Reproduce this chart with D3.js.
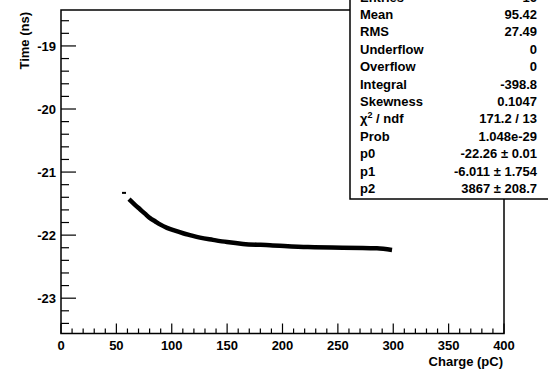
<!DOCTYPE html>
<html><head><meta charset="utf-8">
<script src="https://cdn.jsdelivr.net/npm/d3@7"></script>
<style>
body{margin:0;background:#fff;}
svg{display:block;font-family:"Liberation Sans",Arial,sans-serif;font-weight:bold;}
</style></head>
<body><svg id="c" width="548" height="374"></svg>
<script>
// ---- data ----
const charge = [61.4, 66.8, 71.3, 75.8, 80.4, 84.9, 89.4, 95.7, 102.9, 110.2, 116.5, 125.5, 137.2, 149.9, 164.3, 188.7, 223.0, 285.3, 298.9];
const timeNs = [-21.43, -21.52, -21.59, -21.66, -21.73, -21.78, -21.83, -21.885, -21.93, -21.97, -22.00, -22.04, -22.075, -22.11, -22.14, -22.16, -22.19, -22.21, -22.235];
const firstCharge = [56.9];
const firstTime = [-21.33];
const xTicks = [0, 50, 100, 150, 200, 250, 300, 350, 400];
const yTicks = [-23, -22, -21, -20, -19];
const statLabels = ["Entries", "Mean", "RMS", "Underflow", "Overflow", "Integral", "Skewness", "CHI", "Prob", "p0", "p1", "p2"];
const statValues = ["16", "95.42", "27.49", "0", "0", "-398.8", "0.1047", "171.2 / 13", "1.048e-29", "-22.26 \u00b1 0.01", "-6.011 \u00b1 1.754", "3867 \u00b1 208.7"];

const svg = d3.select("#c");
const x = d3.scaleLinear().domain([0, 400]).range([61, 504]);
const y = d3.scaleLinear().domain([-23.56, -18.43]).range([333.5, 10]);

// frame
svg.append("rect").attr("x", 61).attr("y", 10).attr("width", 443).attr("height", 323.5)
  .attr("fill", "none").attr("stroke", "#000").attr("stroke-width", 1.5);

// x axis ticks
const xMinor = d3.range(0, 401, 10);
svg.append("g").selectAll("line").data(xMinor).join("line")
  .attr("x1", d => x(d)).attr("x2", d => x(d))
  .attr("y1", 333.5).attr("y2", d => d % 50 === 0 ? 323.5 : 328.5)
  .attr("stroke", "#000").attr("stroke-width", 1.2);
svg.append("g").selectAll("text").data(xTicks).join("text")
  .attr("x", d => x(d)).attr("y", 350).attr("text-anchor", "middle")
  .attr("font-size", 13).text(d => d);
svg.append("text").attr("x", 503).attr("y", 366).attr("text-anchor", "end")
  .attr("font-size", 13).text("Charge (pC)");

// y axis ticks
const yMinor = d3.range(-23.4, -18.5, 0.2).map(v => Math.round(v * 10) / 10);
svg.append("g").selectAll("line").data(yMinor).join("line")
  .attr("y1", d => y(d)).attr("y2", d => y(d))
  .attr("x1", 61).attr("x2", d => Math.abs(d - Math.round(d)) < 1e-6 ? 76 : 69)
  .attr("stroke", "#000").attr("stroke-width", 1.2);
svg.append("g").selectAll("text").data(yTicks).join("text")
  .attr("x", 56).attr("y", d => y(d) + 5).attr("text-anchor", "end")
  .attr("font-size", 13).text(d => d);
svg.append("text").attr("transform", "translate(29,12) rotate(-90)")
  .attr("text-anchor", "end").attr("font-size", 13).text("Time (ns)");

// data curve
const line = d3.line().x((d, i) => x(charge[i])).y((d, i) => y(timeNs[i])).curve(d3.curveMonotoneX);
svg.append("path").attr("d", line(charge)).attr("fill", "none")
  .attr("stroke", "#000").attr("stroke-width", 4.5);
svg.append("g").selectAll("rect").data(firstCharge).join("rect")
  .attr("x", (d) => x(d) - 2).attr("y", (d, i) => y(firstTime[i]) - 1)
  .attr("width", 4).attr("height", 2).attr("fill", "#000");

// stats box
svg.append("rect").attr("x", 350).attr("y", -5).attr("width", 210).attr("height", 204)
  .attr("fill", "#fff").attr("stroke", "#000").attr("stroke-width", 1.5);
const rows = svg.append("g");
statLabels.forEach((lab, i) => {
  const by = 1.6 + i * 17.4;
  const t = rows.append("text").attr("x", 360).attr("y", by).attr("font-size", 13);
  if (lab === "CHI") {
    t.append("tspan").text("\u03c7");
    t.append("tspan").attr("dy", -5).attr("font-size", 9).text("2");
    t.append("tspan").attr("dy", 5).text(" / ndf");
  } else t.text(lab);
  rows.append("text").attr("x", 537).attr("y", by).attr("text-anchor", "end")
    .attr("font-size", 13).text(statValues[i]);
});
</script></body></html>
